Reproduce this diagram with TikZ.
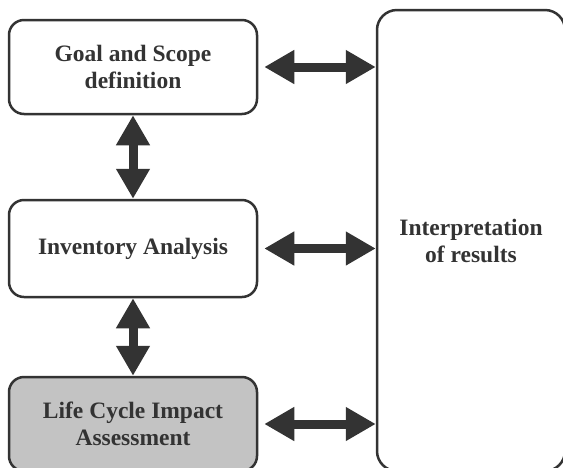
\documentclass[tikz,border=0pt]{standalone}
\usepackage{fontspec}
\setmainfont{Liberation Serif}
\usetikzlibrary{arrows.meta}
\definecolor{ink}{HTML}{333333}
\definecolor{shade}{HTML}{C3C3C3}
\begin{document}
\begin{tikzpicture}[x=1pt,y=-1pt,
  stage/.style={draw=ink, line width=2.5pt, rounded corners=15pt, text=ink,
    font=\fontsize{23.5}{27}\selectfont\bfseries, align=center, inner sep=0pt,
    minimum width=248pt},
  link/.style={draw=ink, line width=9pt,
    {Triangle[width=32pt,length=30pt]}-{Triangle[width=32pt,length=30pt]}}]
\useasboundingbox (0,0) rectangle (563,467);
% phases of the assessment
\node[stage, minimum height=94pt] (goal) at (133,67) {Goal and Scope\\definition};
\node[stage, minimum height=97pt] (inv) at (133,248.5) {Inventory Analysis};
\node[stage, minimum height=94pt, fill=shade] (lcia) at (133,424) {Life Cycle Impact\\Assessment};
\node[stage, rounded corners=20pt, minimum width=188pt, minimum height=461pt] (interp) at (471,240.5) {Interpretation\\of results};
% two-way links
\draw[link] (goal.south) -- (inv.north);
\draw[link] (inv.south) -- (lcia.north);
\draw[link] ([xshift=6pt]goal.east) -- (goal.east -| interp.west);
\draw[link] ([xshift=6pt]inv.east) -- (inv.east -| interp.west);
\draw[link] ([xshift=6pt]lcia.east) -- (lcia.east -| interp.west);
\end{tikzpicture}
\end{document}
